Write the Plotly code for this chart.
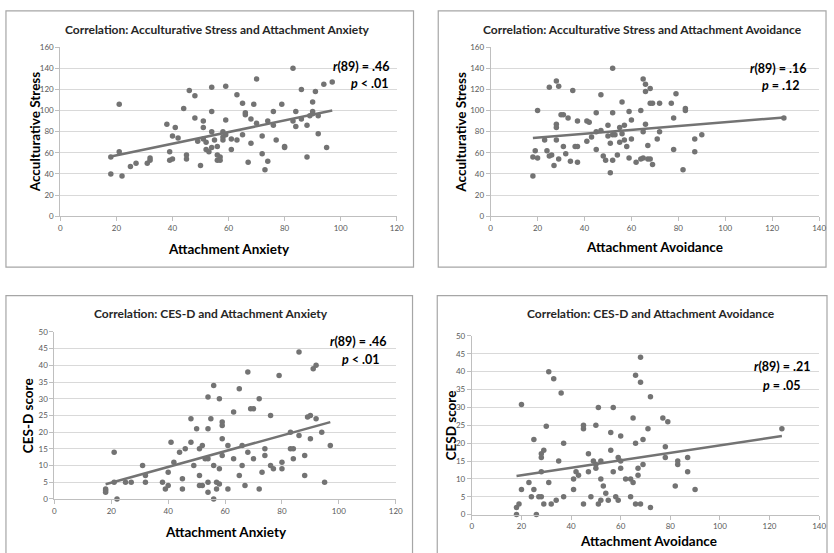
import plotly.graph_objects as go

W, H = 834, 553

# ---------------- data ----------------
# Panel 1: Acculturative Stress vs Attachment Anxiety
anx_x1 = [18, 18, 21, 21, 22, 25, 27, 31, 32, 32, 38, 39, 39, 40, 40, 41, 42, 44, 45, 45,
          46, 48, 48, 49, 50, 51, 51, 51, 52, 52, 53, 54, 54, 54, 54, 55, 56, 56, 56, 57,
          57, 58, 58, 58, 59, 59, 59, 61, 61, 63, 63, 65, 65, 66, 66, 67, 68, 68, 69, 70,
          70, 72, 72, 73, 74, 74, 76, 76, 77, 79, 80, 80, 83, 83, 84, 84, 86, 86, 88, 88,
          89, 90, 90, 90, 91, 92, 92, 94, 95, 97]
acc_y1 = [56, 40, 106, 61, 38, 47, 50, 50, 53, 55, 87, 61, 53, 76, 54, 84, 74, 102, 58, 54,
          119, 114, 93, 71, 48, 90, 84, 73, 70, 63, 61, 122, 99, 80, 65, 72, 66, 58, 53, 56,
          53, 80, 75, 72, 123, 91, 77, 73, 63, 115, 72, 107, 77, 98, 96, 51, 92, 69, 106, 130,
          88, 76, 59, 44, 90, 52, 99, 86, 72, 106, 66, 65, 140, 90, 99, 85, 120, 92, 86, 56,
          95, 108, 99, 97, 118, 95, 78, 125, 65, 127]
trend_x1 = [18, 97]
trend_y1 = [56.5, 100]

# Panel 2: Acculturative Stress vs Attachment Avoidance
avo_x2 = [18, 18, 19, 20, 20, 23, 24, 25, 25, 26, 27, 28, 28, 28, 28, 29, 29, 30, 31, 31,
          32, 33, 34, 35, 36, 37, 37, 37, 41, 41, 42, 43, 45, 45, 45, 47, 47, 48, 49, 50,
          50, 51, 51, 52, 52, 52, 52, 53, 54, 55, 55, 56, 56, 57, 57, 58, 59, 59, 60, 60,
          62, 64, 64, 65, 65, 65, 66, 66, 66, 67, 67, 68, 68, 68, 69, 69, 71, 72, 72, 77,
          78, 78, 79, 82, 83, 83, 87, 87, 90, 125]
acc_y2 = [38, 56, 62, 100, 55, 72, 62, 122, 57, 58, 48, 128, 87, 84, 72, 123, 54, 96, 96, 66,
          59, 93, 52, 119, 66, 66, 90, 51, 90, 71, 89, 75, 98, 63, 80, 115, 81, 57, 53, 86,
          76, 69, 41, 140, 98, 77, 53, 77, 58, 84, 70, 108, 78, 86, 72, 66, 99, 55, 91, 73,
          51, 100, 54, 130, 80, 55, 125, 118, 87, 67, 54, 121, 107, 54, 107, 49, 73, 107, 80, 107,
          93, 63, 116, 44, 102, 100, 73, 61, 77, 93]
trend_x2 = [18, 125]
trend_y2 = [74, 93.5]

# Panel 3: CES-D vs Attachment Anxiety
anx_x3 = [18, 18, 18, 21, 21, 22, 25, 27, 31, 32, 32, 38, 39, 40, 40, 41, 42, 44, 45, 45,
          46, 48, 48, 49, 50, 51, 51, 51, 52, 52, 53, 54, 54, 54, 54, 54, 55, 56, 56, 56,
          57, 57, 58, 58, 58, 59, 59, 59, 59, 61, 61, 63, 63, 65, 65, 66, 66, 67, 68, 68,
          69, 70, 70, 72, 72, 73, 74, 74, 76, 76, 77, 79, 80, 80, 83, 83, 84, 84, 86, 86,
          88, 88, 89, 90, 90, 91, 92, 92, 94, 95, 97]
cesd_y3 = [3, 2.5, 2, 14, 5, 0, 5, 5, 10, 7, 5, 5, 3, 4, 8, 17, 11, 14, 6, 3,
           15, 24, 17, 10, 21, 15, 7, 4, 16, 4, 12, 30.5, 21, 12, 5, 2, 24, 34, 10, 0,
           5, 3, 30, 9, 4.5, 23, 22, 18, 13, 16, 3, 26, 12, 33, 7, 16, 10, 4, 38, 14,
           27, 27, 12, 30, 3, 8, 15, 13, 25, 10, 9, 37, 11, 9, 20, 15, 15, 12, 44, 19,
           13, 7, 24.5, 25, 18, 39, 40, 24, 20, 5, 16]
trend_x3 = [18, 97]
trend_y3 = [4.4, 23]

# Panel 4: CESD vs Attachment Avoidance
avo_x4 = [18, 18, 19, 20, 20, 23, 24, 25, 25, 26, 27, 28, 28, 28, 28, 29, 29, 30, 31, 31,
          32, 33, 34, 35, 36, 37, 37, 41, 41, 42, 43, 45, 45, 45, 47, 47, 48, 49, 50, 50,
          50, 51, 51, 52, 52, 52, 53, 54, 55, 56, 56, 57, 57, 58, 59, 59, 60, 60, 60, 62,
          64, 64, 65, 65, 66, 66, 66, 67, 67, 68, 68, 68, 69, 69, 71, 72, 72, 77, 78, 78,
          79, 82, 83, 83, 87, 87, 90, 125]
cesd_y4 = [2, 0, 3, 30.8, 7, 9, 5, 21, 7, 0, 5, 17, 16, 12, 5, 18, 3, 24.7, 40, 9,
           3, 38, 4, 15, 34, 20, 5, 10, 7, 12, 11, 25, 24, 3, 17, 12, 5, 15, 25, 14,
           13, 30, 3, 15, 10, 4, 8, 6, 4, 23, 18, 30, 12, 5, 16, 4, 22, 15, 13, 10,
           10, 5, 27, 9, 39, 20, 3, 13, 11, 44, 37, 3, 21, 14, 24, 33, 2, 27, 19, 16,
           26, 8, 15, 14, 16, 12, 7, 24]
trend_x4 = [18, 125]
trend_y4 = [10.8, 22]

titles = ["Correlation: Acculturative Stress and Attachment Anxiety",
          "Correlation: Acculturative Stress and Attachment Avoidance",
          "Correlation: CES-D and Attachment Anxiety",
          "Correlation: CES-D and Attachment Avoidance"]
x_titles = ["Attachment Anxiety", "Attachment Avoidance",
            "Attachment Anxiety", "Attachment Avoidance"]
y_titles = ["Acculturative Stress", "Acculturative Stress", "CES-D score", "CESD score"]
r_texts = ["<b><i>r</i>(89) = .46</b>", "<b><i>r</i>(89) = .16</b>",
           "<b><i>r</i>(89) = .46</b>", "<b><i>r</i>(89) = .21</b>"]
p_texts = ["<b><i>p</i> &lt; .01</b>", "<b><i>p</i> = .12</b>",
           "<b><i>p</i> &lt; .01</b>", "<b><i>p</i> = .05</b>"]
x_ranges = [[0, 120], [0, 140], [0, 120], [0, 140]]
y_ranges = [[0, 160], [0, 160], [0, 50], [0, 50]]
y_dticks = [20, 20, 5, 5]

# ---------------- layout geometry (pixels) ----------------
plot_boxes = [  # x0, x1, ytop, ybottom of plot area
    (59, 399, 43, 215),
    (494, 826, 43, 215),
    (53, 398, 333, 503),
    (475, 826, 337, 519),
]
chart_borders = [
    (4, 416, 6, 267),
    (441, 833, 6, 267),
    (4, 415, 296, 560),
    (440, 834, 296, 560),
]
title_pos = [(218, 25), (647, 25), (211, 314), (656, 314)]
xt_pos = [(229, 248), (660, 246), (226, 537), (654, 546)]
yt_pos = [(33, 129), (464, 129), (27, 418), (454, 428)]
r_pos = [(363, 63), (785, 65), (360, 343), (789, 368)]
p_pos = [(372, 80), (788, 82), (363, 361), (789, 387)]

def px(x):
    return x / W

def py(y):
    return 1 - y / H

FONT = "Lato"
MARK = "#737373"

series = [(anx_x1, acc_y1, trend_x1, trend_y1),
          (avo_x2, acc_y2, trend_x2, trend_y2),
          (anx_x3, cesd_y3, trend_x3, trend_y3),
          (avo_x4, cesd_y4, trend_x4, trend_y4)]

def text_ann(text, pos, size, color, angle=0):
    return dict(text=text, x=px(pos[0]), y=py(pos[1]), xref="paper", yref="paper",
                xanchor="center", yanchor="middle", showarrow=False, textangle=angle,
                font=dict(family=FONT, size=size, color=color))

fig = go.Figure()
layout = {}
shapes = []
annotations = []
for i, (xs, ys, tx, ty) in enumerate(series):
    n = i + 1
    xa = "x" if n == 1 else f"x{n}"
    ya = "y" if n == 1 else f"y{n}"
    fig.add_trace(go.Scatter(x=xs, y=ys, mode="markers", xaxis=xa, yaxis=ya,
                             marker=dict(color=MARK, size=5.5), showlegend=False,
                             cliponaxis=False))
    fig.add_trace(go.Scatter(x=tx, y=ty, mode="lines", xaxis=xa, yaxis=ya,
                             line=dict(color=MARK, width=2.5), showlegend=False))
    x0, x1, yt, yb = plot_boxes[i]
    axis_common = dict(showline=True, linecolor="#bfbfbf", linewidth=1,
                       ticks="outside", ticklen=4, tickcolor="#bfbfbf",
                       tickfont=dict(family=FONT, size=8, color="#595959"),
                       zeroline=False, fixedrange=True)
    layout["xaxis" if n == 1 else f"xaxis{n}"] = dict(
        domain=[px(x0), px(x1)], anchor=ya, range=x_ranges[i], dtick=20, tick0=0,
        showgrid=False, **axis_common)
    layout["yaxis" if n == 1 else f"yaxis{n}"] = dict(
        domain=[py(yb), py(yt)], anchor=xa, range=y_ranges[i], dtick=y_dticks[i], tick0=0,
        showgrid=True, gridcolor="#d9d9d9", gridwidth=1, **axis_common)
    bx0, bx1, by0, by1 = chart_borders[i]
    shapes.append(dict(type="rect", xref="paper", yref="paper",
                       x0=px(bx0), x1=px(bx1), y0=py(by1), y1=py(by0),
                       line=dict(color="#a6a6a6", width=1.2), layer="below"))
    annotations.append(text_ann(f"<b>{titles[i]}</b>", title_pos[i], 12, "#262626"))
    annotations.append(text_ann(f"<b>{x_titles[i]}</b>", xt_pos[i], 13.5, "#000000"))
    annotations.append(text_ann(f"<b>{y_titles[i]}</b>", yt_pos[i], 13.5, "#000000", -90))
    annotations.append(text_ann(r_texts[i], r_pos[i], 12.5, "#000000"))
    annotations.append(text_ann(p_texts[i], p_pos[i], 12.5, "#000000"))

fig.update_layout(width=W, height=H, margin=dict(l=0, r=0, t=0, b=0),
                  paper_bgcolor="white", plot_bgcolor="white",
                  shapes=shapes, annotations=annotations, **layout)
fig.write_html("out.html", config={"displayModeBar": False},
               post_script="document.body.style.margin='0';")
